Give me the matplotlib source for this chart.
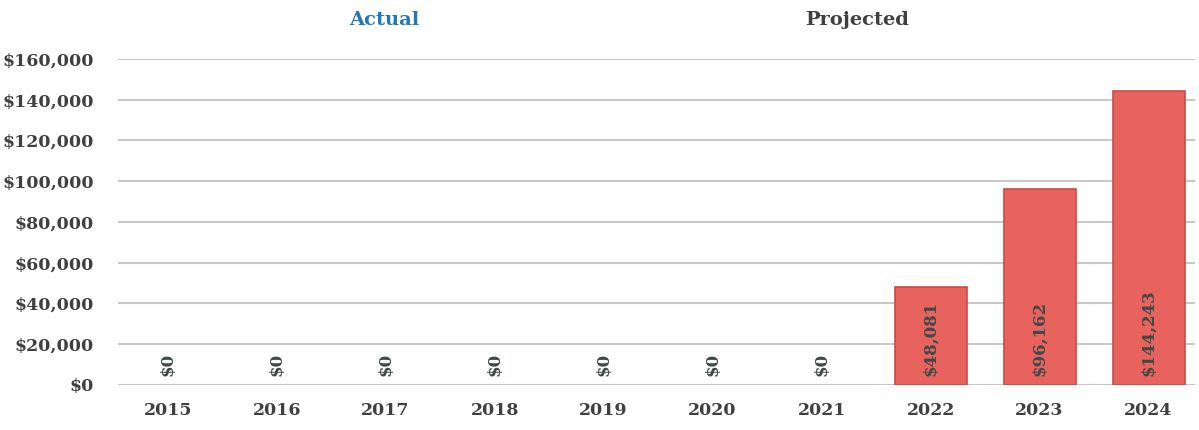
import matplotlib
matplotlib.use("Agg")
import matplotlib.pyplot as plt
from matplotlib.ticker import FuncFormatter

years = ["2015", "2016", "2017", "2018", "2019", "2020", "2021", "2022", "2023", "2024"]
values = [0, 0, 0, 0, 0, 0, 0, 48081, 96162, 144243]
y_ticks = [0, 20000, 40000, 60000, 80000, 100000, 120000, 140000, 160000]

plt.rcParams["font.family"] = ["DejaVu Serif"]
plt.rcParams["font.weight"] = "bold"

text_color = "#404040"
bar_color = "#e8625e"

fig = plt.figure(figsize=(11.99, 4.30), dpi=100)
ax = fig.add_axes([0.098, 0.105, 0.899, 0.758])

x = list(range(len(years)))
# zero bars get no outline, otherwise a red line shows along the axis
edge_widths = [1.2 if v > 0 else 0 for v in values]
ax.bar(x, values, width=0.66, color=bar_color, edgecolor="#cc4a47",
       linewidth=edge_widths, zorder=3)

for xi, v in zip(x, values):
    ax.text(xi, 4500, f"${v:,}", rotation=90, ha="center", va="bottom",
            fontsize=12, fontweight="bold", color="#3f4a46", zorder=4)

ax.set_xlim(-0.46, 9.43)
ax.set_ylim(0, 160000)
ax.set_yticks(y_ticks)
ax.yaxis.set_major_formatter(FuncFormatter(lambda v, p: f"${int(v):,}"))
ax.set_xticks(x)
ax.set_xticklabels(years)
ax.tick_params(axis="both", length=0, labelsize=12.5, labelcolor=text_color)
ax.tick_params(axis="x", pad=12)
ax.tick_params(axis="y", pad=17)
for lab in ax.get_xticklabels() + ax.get_yticklabels():
    lab.set_fontweight("bold")

ax.grid(axis="y", color="#c8c8c8", linewidth=1.5, zorder=0)
for s in ax.spines.values():
    s.set_visible(False)

fig.text(384 / 1199, 1 - 20 / 430, "Actual", ha="center", va="center",
         fontsize=14, fontweight="bold", color="#2478b5")
fig.text(857 / 1199, 1 - 20 / 430, "Projected", ha="center", va="center",
         fontsize=14, fontweight="bold", color=text_color)

fig.savefig("out.png", dpi=100)
